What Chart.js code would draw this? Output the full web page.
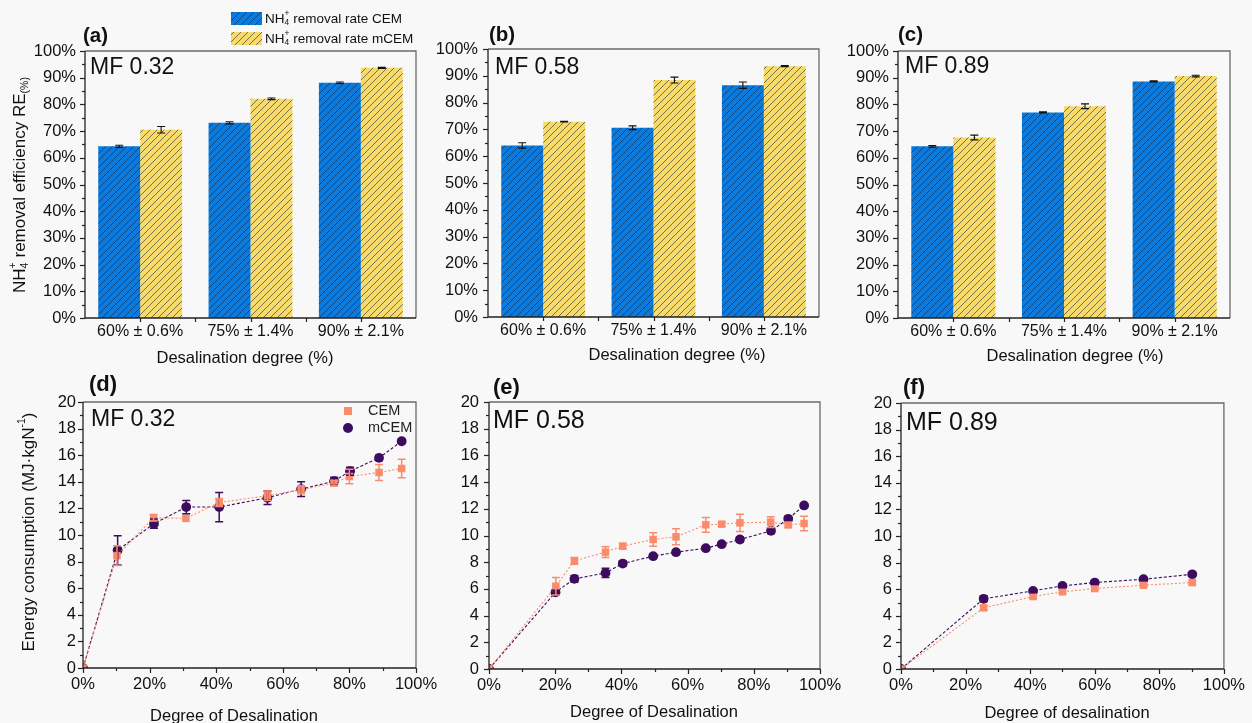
<!DOCTYPE html>
<html><head><meta charset="utf-8">
<script src="https://cdn.jsdelivr.net/npm/chart.js@4.4.1/dist/chart.umd.min.js"></script>
<style>
html,body{margin:0;padding:0;background:#f8f8f8;}
#wrap{position:relative;width:1252px;height:723px;overflow:hidden;background:#f8f8f8;}
#wrap canvas{position:absolute;left:0;top:0;}
</style></head><body>
<div id="wrap">
<canvas id="ca" width="1252" height="723"></canvas>
<canvas id="cb" width="1252" height="723"></canvas>
<canvas id="cc" width="1252" height="723"></canvas>
<canvas id="cd" width="1252" height="723"></canvas>
<canvas id="ce" width="1252" height="723"></canvas>
<canvas id="cf" width="1252" height="723"></canvas>
</div>
<script>
// ---------- DATA ----------
const barCategories = ['60% ± 0.6%', '75% ± 1.4%', '90% ± 2.1%'];

// (a) MF 0.32 : NH4+ removal efficiency (%)
const reCEM_a = [64.3, 73.1, 88.1];
const reCEMErr_a = [0.4, 0.4, 0.3];
const reMCEM_a = [70.5, 82.1, 93.7];
const reMCEMErr_a = [1.2, 0.3, 0.2];
// (b) MF 0.58
const reCEM_b = [64.0, 70.6, 86.5];
const reCEMErr_b = [1.0, 0.7, 1.2];
const reMCEM_b = [72.9, 88.4, 93.6];
const reMCEMErr_b = [0.1, 1.1, 0.2];
// (c) MF 0.89
const reCEM_c = [64.3, 77.0, 88.6];
const reCEMErr_c = [0.3, 0.2, 0.2];
const reMCEM_c = [67.6, 79.3, 90.6];
const reMCEMErr_c = [0.9, 0.9, 0.3];

// (d) MF 0.32 : energy consumption (MJ/kgN) vs degree of desalination (%)
const degCEM_d  = [0, 10.2, 21.2, 30.9, 40.9, 55.4, 65.5, 75.4, 80.0, 88.9, 95.7];
const ecCEM_d   = [0, 8.45, 11.3, 11.25, 12.45, 12.95, 13.4, 13.9, 14.4, 14.7, 15.0];
const errCEM_d  = [0, 0.75, 0.25, 0, 0.3, 0.35, 0.3, 0.2, 0.55, 0.6, 0.7];
const degMCEM_d = [0, 10.4, 21.3, 31.0, 40.9, 55.4, 65.5, 75.4, 80.2, 88.9, 95.7];
const ecMCEM_d  = [0, 8.85, 10.85, 12.1, 12.1, 12.8, 13.45, 14.05, 14.8, 15.8, 17.05];
const errMCEM_d = [0, 1.1, 0.35, 0.5, 1.1, 0.5, 0.55, 0.3, 0.3, 0.2, 0.15];

// (e) MF 0.58
const degCEM_e  = [0, 20.2, 25.8, 35.2, 40.4, 49.6, 56.5, 65.5, 70.3, 75.8, 85.1, 90.4, 95.2];
const ecCEM_e   = [0, 6.2, 8.1, 8.75, 9.2, 9.7, 9.9, 10.8, 10.85, 10.95, 11.0, 10.8, 10.9];
const errCEM_e  = [0, 0.65, 0.25, 0.4, 0.2, 0.5, 0.6, 0.55, 0.15, 0.65, 0.4, 0.2, 0.55];
const degMCEM_e = [0, 20.1, 25.8, 35.2, 40.4, 49.6, 56.5, 65.5, 70.3, 75.8, 85.2, 90.4, 95.2];
const ecMCEM_e  = [0, 5.75, 6.75, 7.2, 7.9, 8.45, 8.75, 9.05, 9.35, 9.7, 10.35, 11.25, 12.25];
const errMCEM_e = [0, 0.15, 0.25, 0.35, 0.2, 0.15, 0.15, 0.15, 0.1, 0.2, 0.2, 0.15, 0.1];

// (f) MF 0.89
const degCEM_f  = [0, 25.6, 40.9, 50.0, 60.0, 75.1, 90.2];
const ecCEM_f   = [0, 4.6, 5.45, 5.8, 6.05, 6.3, 6.5];
const errCEM_f  = [0, 0.15, 0.15, 0.1, 0.1, 0.1, 0.15];
const degMCEM_f = [0, 25.6, 40.9, 50.0, 60.0, 75.1, 90.2];
const ecMCEM_f  = [0, 5.28, 5.87, 6.25, 6.5, 6.75, 7.12];
const errMCEM_f = [0, 0.2, 0.15, 0.15, 0.15, 0.1, 0.1];

// ---------- STYLE / LAYOUT ----------
const FONT = '"Liberation Sans", Arial, Helvetica, sans-serif';
const W = 1252, H = 723, YW = 60, XH = 40;
const BLUE = '#0a7bdd', YEL = '#f7db6a', ORANGE = '#fb8b6a', PURPLE = '#3d0c5e';
Chart.defaults.font.family = FONT;
Chart.defaults.color = '#111';

function hatch(ctx, color) {
  const s = 7, c = document.createElement('canvas');
  c.width = s; c.height = s;
  const g = c.getContext('2d');
  g.fillStyle = color; g.fillRect(0, 0, s, s);
  g.strokeStyle = 'rgba(25,32,50,0.72)'; g.lineWidth = 0.8;
  g.beginPath();
  g.moveTo(-1, s + 1); g.lineTo(s + 1, -1);
  g.moveTo(-1, 1); g.lineTo(1, -1);
  g.moveTo(s - 1, s + 1); g.lineTo(s + 1, s - 1);
  g.stroke();
  return ctx.createPattern(c, 'repeat');
}

function drawText(ctx, t) {
  ctx.save();
  ctx.font = (t.bold ? 'bold ' : '') + t.size + 'px ' + FONT;
  ctx.fillStyle = t.color || '#111';
  ctx.textBaseline = 'middle';
  ctx.textAlign = t.align || 'left';
  ctx.fillText(t.t, t.x, t.y);
  ctx.restore();
}

function richText(ctx, parts, x, y, size, rot, align) {
  ctx.save();
  ctx.translate(x, y);
  if (rot) ctx.rotate(rot);
  ctx.textBaseline = 'middle';
  ctx.fillStyle = '#111';
  let w = 0, prevStart = 0; const pos = [];
  parts.forEach(p => {
    const fs = p.s ? size * 0.62 : size;
    ctx.font = fs + 'px ' + FONT;
    const pw = ctx.measureText(p.t).width;
    let px;
    if (p.stack) { px = prevStart; w = Math.max(w, px + pw); }
    else { px = w; w += pw; }
    prevStart = px;
    pos.push({px, fs, dy: p.s === 'sub' ? size * 0.3 : (p.s === 'sup' ? -size * 0.38 : 0)});
  });
  const start = align === 'left' ? 0 : -w / 2;
  parts.forEach((p, i) => {
    ctx.font = pos[i].fs + 'px ' + FONT;
    ctx.textAlign = 'left';
    ctx.fillText(p.t, start + pos[i].px, pos[i].dy);
  });
  ctx.restore();
}

function decoPlugin(o) {
  return {
    id: 'deco',
    afterDraw(chart) {
      const ctx = chart.ctx, a = chart.chartArea, xs = chart.scales.x, ys = chart.scales.y;
      ctx.save();
      // error bars
      (o.errors || []).forEach(e => {
        const meta = chart.getDatasetMeta(e.ds);
        const vals = chart.data.datasets[e.ds].data;
        ctx.strokeStyle = e.color; ctx.lineWidth = e.lw || 1.2;
        meta.data.forEach((el, i) => {
          const v = typeof vals[i] === 'object' ? vals[i].y : vals[i];
          const er = e.err[i];
          if (!er) return;
          const x = el.x;
          const y1 = ys.getPixelForValue(v + er), y2 = ys.getPixelForValue(v - er);
          const c = e.cap;
          ctx.beginPath();
          ctx.moveTo(x, y1); ctx.lineTo(x, y2);
          ctx.moveTo(x - c, y1); ctx.lineTo(x + c, y1);
          ctx.moveTo(x - c, y2); ctx.lineTo(x + c, y2);
          ctx.stroke();
        });
      });
      // frame
      ctx.lineWidth = 1.3;
      ctx.strokeStyle = '#6a6a6a';
      ctx.beginPath(); ctx.moveTo(a.left, a.top); ctx.lineTo(a.right, a.top); ctx.lineTo(a.right, a.bottom); ctx.stroke();
      ctx.strokeStyle = '#222';
      ctx.beginPath(); ctx.moveTo(a.left, a.top); ctx.lineTo(a.left, a.bottom); ctx.lineTo(a.right, a.bottom); ctx.stroke();
      // y ticks
      ctx.lineWidth = 1.2;
      ys.ticks.forEach(t => {
        const y = Math.round(ys.getPixelForValue(t.value)) + 0.5;
        const L = (Math.abs(t.value % o.yMajor) < 1e-6) ? 5 : 3;
        ctx.beginPath(); ctx.moveTo(a.left - L, y); ctx.lineTo(a.left, y); ctx.stroke();
      });
      // x ticks
      if (o.cat) {
        const n = chart.data.labels.length, w = (a.right - a.left) / n;
        for (let k = 1; k < n * 2; k++) {
          const x = Math.round(a.left + k * w / 2) + 0.5;
          ctx.beginPath(); ctx.moveTo(x, a.bottom); ctx.lineTo(x, a.bottom + 4); ctx.stroke();
        }
      } else {
        xs.ticks.forEach(t => {
          const x = Math.round(xs.getPixelForValue(t.value)) + 0.5;
          const L = (Math.abs(t.value % o.xMajor) < 1e-6) ? 5 : 3;
          ctx.beginPath(); ctx.moveTo(x, a.bottom); ctx.lineTo(x, a.bottom + L); ctx.stroke();
        });
      }
      (o.texts || []).forEach(t => drawText(ctx, t));
      if (o.extra) o.extra(ctx, chart);
      ctx.restore();
    }
  };
}

function makeBar(id, geo, cem, cemErr, mcem, mcemErr, deco) {
  const ctx = document.getElementById(id).getContext('2d');
  deco.cat = true; deco.yMajor = 10;
  deco.errors = [
    {ds: 0, err: cemErr, color: '#111', cap: 4, lw: 1.1},
    {ds: 1, err: mcemErr, color: '#111', cap: 4, lw: 1.1}
  ];
  return new Chart(ctx, {
    type: 'bar',
    data: {labels: barCategories, datasets: [
      {label: 'NH4+ removal rate CEM', data: cem, backgroundColor: hatch(ctx, BLUE), borderWidth: 0, categoryPercentage: 0.76, barPercentage: 1},
      {label: 'NH4+ removal rate mCEM', data: mcem, backgroundColor: hatch(ctx, YEL), borderWidth: 0, categoryPercentage: 0.76, barPercentage: 1}
    ]},
    options: {
      responsive: false, animation: false, devicePixelRatio: 1, events: [],
      layout: {padding: {left: geo.L - YW, top: geo.T, right: W - geo.R, bottom: H - geo.B - XH}},
      plugins: {legend: {display: false}, tooltip: {enabled: false}},
      scales: {
        x: {grid: {display: false, drawTicks: false}, border: {display: false},
            ticks: {font: {size: 16}, padding: 4, maxRotation: 0, minRotation: 0, autoSkip: false, color: '#111'},
            afterFit: s => { s.height = XH; }},
        y: {min: 0, max: 100, grid: {display: false, drawTicks: false}, border: {display: false},
            ticks: {stepSize: 5, autoSkip: false, maxTicksLimit: 100, font: {size: 16.5}, padding: geo.yPad, color: '#111',
                    callback: v => (v % 10 === 0 ? v + '%' : '')},
            afterFit: s => { s.width = YW; }}
      }
    },
    plugins: [decoPlugin(deco)]
  });
}

function pts(xs, ys) { return xs.map((x, i) => ({x: x, y: ys[i]})); }

function makeLine(id, geo, xC, yC, eC, xM, yM, eM, deco) {
  const ctx = document.getElementById(id).getContext('2d');
  deco.yMajor = 2; deco.xMajor = 20;
  deco.errors = [
    {ds: 1, err: eM, color: PURPLE, cap: 4, lw: 1.5},
    {ds: 0, err: eC, color: ORANGE, cap: 4, lw: 1.5}
  ];
  return new Chart(ctx, {
    type: 'scatter',
    data: {datasets: [
      {label: 'CEM', data: pts(xC, yC), showLine: true, borderColor: ORANGE, backgroundColor: ORANGE,
       borderWidth: 1.1, borderDash: [2, 2], pointStyle: 'rect', pointRadius: 5.3, pointBorderWidth: 0},
      {label: 'mCEM', data: pts(xM, yM), showLine: true, borderColor: PURPLE, backgroundColor: PURPLE,
       borderWidth: 1.1, borderDash: [3, 2], pointStyle: 'circle', pointRadius: 4.9, pointBorderWidth: 0}
    ]},
    options: {
      responsive: false, animation: false, devicePixelRatio: 1, events: [],
      layout: {padding: {left: geo.L - YW, top: geo.T, right: W - geo.R, bottom: H - geo.B - XH}},
      plugins: {legend: {display: false}, tooltip: {enabled: false}},
      scales: {
        x: {type: 'linear', min: 0, max: 100, grid: {display: false, drawTicks: false}, border: {display: false},
            ticks: {stepSize: 10, autoSkip: false, maxTicksLimit: 100, font: {size: 16.5}, padding: 7, maxRotation: 0, minRotation: 0, color: '#111',
                    callback: v => (v % 20 === 0 ? v + '%' : '')},
            afterFit: s => { s.height = XH; }},
        y: {min: 0, max: 20, grid: {display: false, drawTicks: false}, border: {display: false},
            ticks: {stepSize: 1, autoSkip: false, maxTicksLimit: 100, font: {size: 16.5}, padding: geo.yPad, color: '#111',
                    callback: v => (v % 2 === 0 ? String(v) : '')},
            afterFit: s => { s.width = YW; }}
      }
    },
    plugins: [decoPlugin(deco)]
  });
}

const NH4 = [{t: 'NH'}, {t: '4', s: 'sub'}, {t: '+', s: 'sup', stack: true}];

// ---------- PANELS ----------
makeBar('ca', {L: 85, R: 416, T: 51, B: 318, yPad: 9}, reCEM_a, reCEMErr_a, reMCEM_a, reMCEMErr_a, {
  texts: [
    {t: '(a)', x: 83, y: 36, size: 20.5, bold: true},
    {t: 'MF 0.32', x: 90, y: 68, size: 23},
    {t: 'Desalination degree (%)', x: 245, y: 358, size: 16.5, align: 'center'}
  ],
  extra: (ctx) => {
    richText(ctx, NH4.concat([{t: ' removal efficiency RE'}, {t: '(%)', s: 'sub'}]), 20, 185, 17, -Math.PI / 2);
    ctx.fillStyle = hatch(ctx, BLUE); ctx.fillRect(231, 12, 31, 13);
    ctx.fillStyle = hatch(ctx, YEL); ctx.fillRect(231, 32, 31, 13);
    richText(ctx, NH4.concat([{t: ' removal rate CEM'}]), 265, 19, 13.5, 0, 'left');
    richText(ctx, NH4.concat([{t: ' removal rate mCEM'}]), 265, 39, 13.5, 0, 'left');
  }
});
makeBar('cb', {L: 488, R: 819, T: 49, B: 317, yPad: 10}, reCEM_b, reCEMErr_b, reMCEM_b, reMCEMErr_b, {
  texts: [
    {t: '(b)', x: 489, y: 35, size: 20.5, bold: true},
    {t: 'MF 0.58', x: 495, y: 68, size: 23},
    {t: 'Desalination degree (%)', x: 677, y: 355, size: 16.5, align: 'center'}
  ]
});
makeBar('cc', {L: 898, R: 1230, T: 51, B: 318, yPad: 9}, reCEM_c, reCEMErr_c, reMCEM_c, reMCEMErr_c, {
  texts: [
    {t: '(c)', x: 898, y: 35, size: 20.5, bold: true},
    {t: 'MF 0.89', x: 905, y: 67, size: 23},
    {t: 'Desalination degree (%)', x: 1075, y: 356, size: 16.5, align: 'center'}
  ]
});
makeLine('cd', {L: 83, R: 416, T: 402, B: 668, yPad: 7}, degCEM_d, ecCEM_d, errCEM_d, degMCEM_d, ecMCEM_d, errMCEM_d, {
  texts: [
    {t: '(d)', x: 89, y: 385, size: 22, bold: true},
    {t: 'MF 0.32', x: 91, y: 420, size: 23},
    {t: 'Degree of Desalination', x: 234, y: 716, size: 16.5, align: 'center'},
    {t: 'CEM', x: 368, y: 411, size: 14.5, color: '#222'},
    {t: 'mCEM', x: 368, y: 428, size: 14.5, color: '#222'}
  ],
  extra: (ctx) => {
    richText(ctx, [{t: 'Energy consumption (MJ·kgN'}, {t: '-1', s: 'sup'}, {t: ')'}], 29, 532, 17, -Math.PI / 2);
    ctx.fillStyle = ORANGE; ctx.fillRect(344, 407, 8, 8);
    ctx.fillStyle = PURPLE; ctx.beginPath(); ctx.arc(348, 428, 5, 0, Math.PI * 2); ctx.fill();
  }
});
makeLine('ce', {L: 489, R: 820, T: 402, B: 669, yPad: 10}, degCEM_e, ecCEM_e, errCEM_e, degMCEM_e, ecMCEM_e, errMCEM_e, {
  texts: [
    {t: '(e)', x: 493, y: 388, size: 22, bold: true},
    {t: 'MF 0.58', x: 493, y: 421, size: 25},
    {t: 'Degree of Desalination', x: 654, y: 712, size: 16.5, align: 'center'}
  ]
});
makeLine('cf', {L: 901, R: 1232, T: 403, B: 669, yPad: 9}, degCEM_f, ecCEM_f, errCEM_f, degMCEM_f, ecMCEM_f, errMCEM_f, {
  texts: [
    {t: '(f)', x: 903, y: 388, size: 22, bold: true},
    {t: 'MF 0.89', x: 906, y: 423, size: 25},
    {t: 'Degree of desalination', x: 1067, y: 713, size: 16.5, align: 'center'}
  ]
});
</script>
</body></html>
